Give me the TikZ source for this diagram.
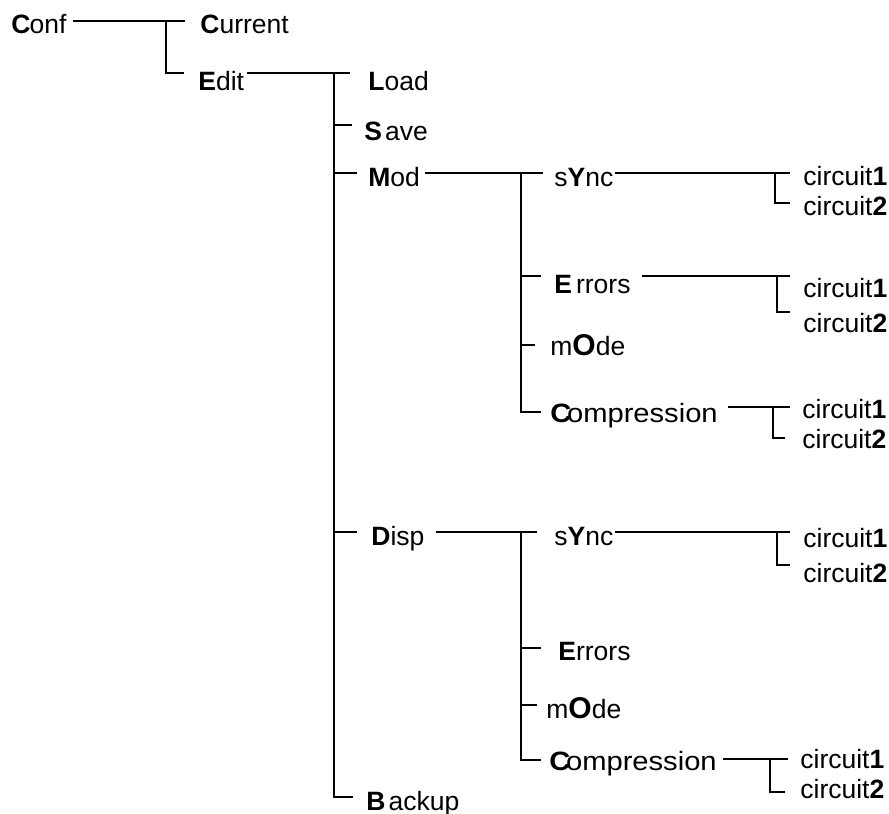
\documentclass[tikz,border=0pt]{standalone}
\usepackage{fontspec}
\setmainfont{Liberation Sans}

\begin{document}
\begin{tikzpicture}[x=1pt,y=-1pt,line width=2.8pt,
  lbl/.style={anchor=base west,inner sep=0pt,font=\fontsize{26.5}{30}\selectfont}]
\useasboundingbox (0,0) rectangle (889,814);
% labels
\node[lbl] (conf) at (10,33) {\textbf{C}\kern-1pt onf};
\node[lbl] (cur) at (199,33) {\textbf{C}urrent};
\node[lbl] (edit) at (197,90) {\textbf{E}dit};
\node[lbl] (load) at (367,90) {\textbf{L}oad};
\node[lbl] (save) at (363,140) {\textbf{S}\kern3pt ave};
\node[lbl] (mod) at (367,186) {\textbf{M}od};
\node[lbl] (disp) at (370,545) {\textbf{D}isp};
\node[lbl] (backup) at (365,810) {\textbf{B}\kern3pt ackup};
% under Mod
\node[lbl] (msync) at (553,186) {s\textbf{Y}nc};
\node[lbl] (merr) at (553,293) {\textbf{E}\kern4pt rrors};
\node[lbl] (mmode) at (549,355) {m{\fontsize{30}{30}\selectfont\textbf{O}}de};
\node[lbl] (mcomp) at (549,422) {\scalebox{1.1}[1]{\textbf{C}\kern-4pt ompression}};
\node[lbl] (mc1a) at (802,185) {circuit\textbf{1}};
\node[lbl] (mc2a) at (802,215) {circuit\textbf{2}};
\node[lbl] (mc1b) at (802,297) {circuit\textbf{1}};
\node[lbl] (mc2b) at (802,332) {circuit\textbf{2}};
\node[lbl] (mc1c) at (801,418) {circuit\textbf{1}};
\node[lbl] (mc2c) at (801,448) {circuit\textbf{2}};
% under Disp
\node[lbl] (dsync) at (553,545) {s\textbf{Y}nc};
\node[lbl] (derr) at (557,660) {\textbf{E}rrors};
\node[lbl] (dmode) at (545,718) {m{\fontsize{30}{30}\selectfont\textbf{O}}de};
\node[lbl] (dcomp) at (548,770) {\scalebox{1.1}[1]{\textbf{C}\kern-4pt ompression}};
\node[lbl] (dc1a) at (802,547) {circuit\textbf{1}};
\node[lbl] (dc2a) at (802,582) {circuit\textbf{2}};
\node[lbl] (dc1b) at (799,768) {circuit\textbf{1}};
\node[lbl] (dc2b) at (799,798) {circuit\textbf{2}};
% Conf
\draw ([shift={(5,-12)}]conf.base east) -- ([shift={(-14,-12)}]cur.base west);
\draw ([shift={(-33,-12)}]cur.base west) -- ([shift={(-31,-17)}]edit.base west) -- ([shift={(-13,-17)}]edit.base west);
% Edit
\draw ([shift={(2,-17)}]edit.base east) -- ([shift={(-17,-17)}]load.base west);
\draw ([shift={(-33,-17)}]load.base west) -- ([shift={(-31,-13)}]backup.base west) -- ([shift={(-12,-13)}]backup.base west);
\draw ([shift={(-29,-15)}]save.base west) -- ([shift={(-11,-15)}]save.base west);
\draw ([shift={(-33,-13)}]mod.base west) -- ([shift={(-10,-13)}]mod.base west);
\draw ([shift={(-36,-13)}]disp.base west) -- ([shift={(-13,-13)}]disp.base west);
% Mod
\draw ([shift={(4,-13)}]mod.base east) -- ([shift={(-10,-13)}]msync.base west);
\draw ([shift={(-32,-13)}]msync.base west) -- ([shift={(-28,-10)}]mcomp.base west) -- ([shift={(-8,-10)}]mcomp.base west);
\draw ([shift={(-32,-17)}]merr.base west) -- ([shift={(-12,-17)}]merr.base west);
\draw ([shift={(-28,-10)}]mmode.base west) -- ([shift={(-14,-10)}]mmode.base west);
\draw ([shift={(0,-13)}]msync.base east) -- ([shift={(-12,-12)}]mc1a.base west);
\draw ([shift={(-27,-12)}]mc1a.base west) -- ([shift={(-27,-12)}]mc2a.base west) -- ([shift={(-12,-12)}]mc2a.base west);
\draw ([shift={(10,-17)}]merr.base east) -- ([shift={(-12,-21)}]mc1b.base west);
\draw ([shift={(-25,-21)}]mc1b.base west) -- ([shift={(-25,-20)}]mc2b.base west) -- ([shift={(-12,-20)}]mc2b.base west);
\draw ([shift={(9,-15)}]mcomp.base east) -- ([shift={(-11,-11)}]mc1c.base west);
\draw ([shift={(-28,-11)}]mc1c.base west) -- ([shift={(-28,-10)}]mc2c.base west) -- ([shift={(-16,-10)}]mc2c.base west);
% Disp
\draw ([shift={(10,-13)}]disp.base east) -- ([shift={(-16,-13)}]dsync.base west);
\draw ([shift={(-32,-13)}]dsync.base west) -- ([shift={(-27,-10)}]dcomp.base west) -- ([shift={(-7,-10)}]dcomp.base west);
\draw ([shift={(-36,-12)}]derr.base west) -- ([shift={(-16,-12)}]derr.base west);
\draw ([shift={(-24,-13)}]dmode.base west) -- ([shift={(-8,-13)}]dmode.base west);
\draw ([shift={(0,-13)}]dsync.base east) -- ([shift={(-12,-15)}]dc1a.base west);
\draw ([shift={(-25,-15)}]dc1a.base west) -- ([shift={(-25,-17)}]dc2a.base west) -- ([shift={(-12,-17)}]dc2a.base west);
\draw ([shift={(5,-11)}]dcomp.base east) -- ([shift={(-11,-9)}]dc1b.base west);
\draw ([shift={(-29,-9)}]dc1b.base west) -- ([shift={(-29,-6)}]dc2b.base west) -- ([shift={(-14,-6)}]dc2b.base west);
\end{tikzpicture}
\end{document}
